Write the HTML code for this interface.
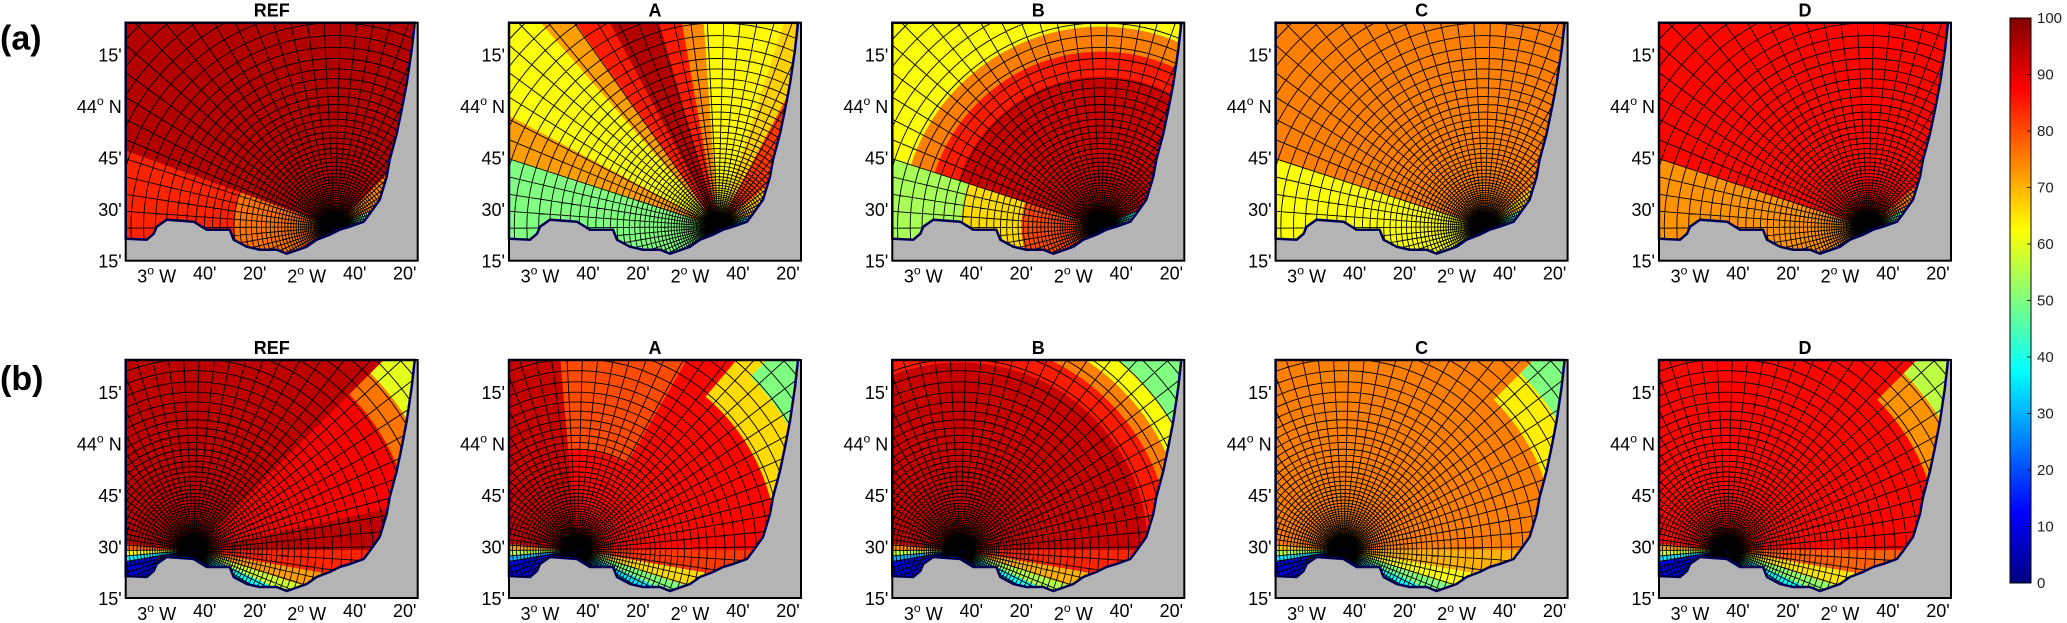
<!DOCTYPE html>
<html><head><meta charset="utf-8"><style>
html,body{margin:0;padding:0;background:#fff;overflow:hidden;width:2067px;height:623px;}
svg{display:block;font-family:"Liberation Sans",Arial,sans-serif;}
</style></head><body>
<svg id="fig" width="2067" height="623" viewBox="0 0 2067 623" xmlns="http://www.w3.org/2000/svg">
<defs>
<clipPath id="seaclip" clipPathUnits="userSpaceOnUse"><polygon id="seapoly" points="0,0 289,0 286,27 281,61 276,87 271,111 264,137 261,154 254,177 244,191 238,199 224,204 214,207 204,212 191,217 181,224 161,231 151,227 134,227 121,224 108,217 104,207 81,207 68,199 41,197 31,204 28,211 21,217 0,216"/></clipPath>
<linearGradient id="jetgrad" x1="0" y1="1" x2="0" y2="0">
<stop offset="0" stop-color="#000080"/><stop offset="0.125" stop-color="#0000ff"/><stop offset="0.375" stop-color="#00ffff"/><stop offset="0.625" stop-color="#ffff00"/><stop offset="0.875" stop-color="#ff0000"/><stop offset="1" stop-color="#800000"/>
</linearGradient>
</defs>
</svg>
<script>
// ---- data ----
const panelTitles = ["REF","A","B","C","D"];
const rowLabels = ["(a)","(b)"];
const latTicks = [43.25, 43.5, 43.75, 44.0, 44.25];
const latLabels = ["15'", "30'", "45'", "44|N", "15'"];
const lonTicks = [-3.0, -2.6667, -2.3333, -2.0, -1.6667, -1.3333];
const lonLabels = ["3|W", "40'", "20'", "2|W", "40'", "20'"];
const colorTicks = [0,10,20,30,40,50,60,70,80,90,100];
// regions: [angleStartDeg, angleEndDeg, radiusStartKm, radiusEndKm, value]
const regionsA_REF = [[-40,220,0,200,95],[160,220,0,200,84],[160,220,0,40,76],[45,60,55,200,88],[25,45,0,200,74],[-40,25,0,200,48]];
const regionsA_A = [[-40,220,0,200,70],[162,220,0,200,50],[152,162,0,200,72],[131,152,0,200,62],[125,131,0,200,72],[118,125,0,200,85],[106,118,0,200,95],[100,106,0,200,85],[94,100,0,200,74],[72,94,0,200,63],[62,72,0,200,67],[40,62,0,200,82],[20,40,0,200,68],[-40,20,0,200,38]];
const regionsA_B = [[25,162,0,60,93],[25,162,60,70,85],[25,162,70,80,75],[25,162,80,200,62],[162,220,0,32,80],[162,220,32,56,66],[162,220,56,200,54],[-40,25,0,200,40]];
const regionsA_C = [[-40,220,0,200,75],[162,220,0,200,62],[25,40,0,200,68],[-40,25,0,200,42]];
const regionsA_D = [[-40,220,0,200,87],[162,220,0,200,73],[25,40,0,200,75],[-40,25,0,200,48]];
const regionsB_REF = [[-40,220,0,200,94],[12,45,0,200,88],[20,45,88,200,76],[32,45,100,200,60],[-10,0,0,200,84],[-18,-10,0,200,72],[-25,-18,0,200,58],[-45,-25,0,200,38],[175,180,0,200,78],[180,185,0,200,62],[185,190,0,200,36],[190,225,0,200,10]];
const regionsB_A = [[-40,220,0,200,87],[95,180,0,200,93],[60,95,40,200,80],[15,50,80,200,66],[22,45,98,200,50],[-10,0,0,200,82],[-18,-10,0,200,66],[-25,-18,0,200,50],[-45,-25,0,200,35],[175,180,0,200,72],[180,185,0,200,55],[185,190,0,200,30],[190,225,0,200,10]];
const regionsB_B = [[-40,220,0,75,93],[-40,220,75,84,85],[-40,220,84,91,75],[-40,220,91,99,62],[-40,220,99,200,50],[-10,0,0,200,84],[-18,-10,0,200,70],[-25,-18,0,200,55],[-45,-25,0,200,38],[175,180,0,200,74],[180,185,0,200,56],[185,190,0,200,30],[190,225,0,200,10]];
const regionsB_C = [[-40,220,0,200,75],[15,45,85,200,64],[25,45,100,200,50],[-10,0,0,200,70],[-18,-10,0,200,62],[-25,-18,0,200,50],[-45,-25,0,200,38],[175,180,0,200,68],[180,185,0,200,55],[185,190,0,200,35],[190,225,0,200,10]];
const regionsB_D = [[-40,220,0,200,87],[15,45,85,200,73],[25,45,100,200,56],[-10,0,0,200,78],[-18,-10,0,200,65],[-25,-18,0,200,52],[-45,-25,0,200,38],[175,180,0,200,72],[180,185,0,200,58],[185,190,0,200,35],[190,225,0,200,10]];
const panelRegions = [[regionsA_REF,regionsA_A,regionsA_B,regionsA_C,regionsA_D],[regionsB_REF,regionsB_A,regionsB_B,regionsB_C,regionsB_D]];

// ---- layout ----
const NS = "http://www.w3.org/2000/svg";
const svg = document.getElementById("fig");
const PW = 292, PH = 238;
const panelX = [125.7, 509.0, 892.3, 1275.6, 1659.0];
const rowY = [22.7, 360.0];
const rowCenter = [[209, 204], [68, 190]];
const pxPerKm = 2.5;
const rScale = km => km * pxPerKm;
const xLon = lon => 29 + (lon + 3) * 150;
const yLat = lat => 239 - (lat - 43.25) * 206;

function jet(v) {
  const t = Math.max(0, Math.min(1, v / 100));
  const c = x => Math.round(255 * Math.max(0, Math.min(1, x)));
  return `rgb(${c(1.5 - Math.abs(4*t - 3))},${c(1.5 - Math.abs(4*t - 2))},${c(1.5 - Math.abs(4*t - 1))})`;
}
function mk(tag, attrs, parent) {
  const e = document.createElementNS(NS, tag);
  for (const k in attrs) e.setAttribute(k, attrs[k]);
  parent.appendChild(e);
  return e;
}
function sectorPath(cx, cy, a0, a1, r0, r1) {
  const rad = d => d * Math.PI / 180;
  const p = (r, a) => [cx + r * Math.cos(rad(a)), cy - r * Math.sin(rad(a))];
  const large = (a1 - a0) > 180 ? 1 : 0;
  const [x1, y1] = p(r1, a0), [x2, y2] = p(r1, a1);
  let d = `M${x1},${y1} A${r1},${r1} 0 ${large} 0 ${x2},${y2}`;
  if (r0 > 0) {
    const [x3, y3] = p(r0, a1), [x4, y4] = p(r0, a0);
    d += ` L${x3},${y3} A${r0},${r0} 0 ${large} 1 ${x4},${y4} Z`;
  } else d += ` L${cx},${cy} Z`;
  return d;
}
function labelText(parent, str, x, y, anchor, size) {
  const t = mk("text", {x: x, y: y, "text-anchor": anchor, "font-size": size, fill: "#000"}, parent);
  if (str.includes("|")) {
    const [deg, hemi] = str.split("|");
    t.appendChild(document.createTextNode(deg));
    const s = mk("tspan", {dy: -8, "font-size": size * 0.68}, t); s.textContent = "o";
    const h = mk("tspan", {dy: 8}, t); h.textContent = "\u00a0" + hemi;
  } else t.textContent = str;
  return t;
}

const ringRadii = []; for (let r = 3; r < 430; r *= 1.066) ringRadii.push(r);
const radialAngles = []; for (let a = -45; a <= 225; a += 4.6) radialAngles.push(a);

for (let row = 0; row < 2; row++) {
  const rl = labelText(svg, rowLabels[row], 0, rowY[row] + (row ? 30 : 27), "start", 34);
  rl.setAttribute("font-weight", "bold");
  
  
  const [cx, cy] = rowCenter[row];
  for (let col = 0; col < 5; col++) {
    const g = mk("g", {transform: `translate(${panelX[col]},${rowY[row]})`}, svg);
    
    
    const land = mk("rect", {x: 0, y: 0, width: PW, height: PH, fill: "#b4b4b4"}, g);
    
    
    const sea = mk("g", {"clip-path": "url(#seaclip)"}, g);
    
    
    mk("rect", {x: 0, y: 0, width: PW, height: PH, fill: "#000080"}, sea);
    for (const [a0, a1, r0, r1, v] of panelRegions[row][col]) {
      const cell = mk("path", {d: sectorPath(cx, cy, a0, a1, rScale(r0), Math.min(rScale(r1), 430)), fill: jet(v)}, sea);
      
      
    }
    let gd = "";
    for (const r of ringRadii) gd += `M${cx + r},${cy} A${r},${r} 0 1 0 ${cx - r},${cy} A${r},${r} 0 1 0 ${cx + r},${cy} `;
    for (const a of radialAngles) {
      const rr = a * Math.PI / 180;
      gd += `M${cx},${cy} L${cx + 430 * Math.cos(rr)},${cy - 430 * Math.sin(rr)} `;
    }
    const grid = mk("path", {d: gd, fill: "none", stroke: "#000", "stroke-width": 0.9}, sea);
    
    
    const coast = mk("use", {href: "#seapoly", fill: "none", stroke: "#000080", "stroke-width": 2.5}, g);
    
    
    mk("use", {href: "#seapoly", fill: "none", stroke: "#000", "stroke-width": 0.8}, g);
    const frame = mk("rect", {x: 0, y: 0, width: PW, height: PH, fill: "none", stroke: "#000", "stroke-width": 2}, g);
    
    
    const tt = mk("text", {x: PW / 2, y: -6, "text-anchor": "middle", "font-size": 18, "font-weight": "bold"}, g);
    tt.textContent = panelTitles[col];
    
    
    latTicks.forEach((lat, i) => {
      const t = labelText(g, latLabels[i], -4, yLat(lat) + 6, "end", 18);
      
      
    });
    lonTicks.forEach((lon, i) => {
      const isDeg = lonLabels[i].includes("|");
      const t = labelText(g, lonLabels[i], xLon(lon) + (isDeg ? 2 : 0), PH + (isDeg ? 22 : 19), "middle", 18);
      
      
    });
  }
}

// ---- colorbar ----
const cbX = 2010, cbY = 18, cbW = 21, cbH = 565;
const cbV = v => cbY + cbH - (v / 100) * cbH;
const cb = mk("g", {}, svg);


mk("rect", {x: cbX, y: cbY, width: cbW, height: cbH, fill: "url(#jetgrad)", stroke: "#000", "stroke-width": 1}, cb);
colorTicks.forEach(v => {
  const tk = mk("line", {x1: cbX + cbW - 4, x2: cbX + cbW, y1: cbV(v), y2: cbV(v), stroke: "#000", "stroke-width": 0.8}, cb);
  
  
  const t = mk("text", {x: cbX + cbW + 6, y: cbV(v) + 5, "font-size": 15, fill: "#222"}, cb);
  t.textContent = v;
  
  
});
</script>
</body></html>
